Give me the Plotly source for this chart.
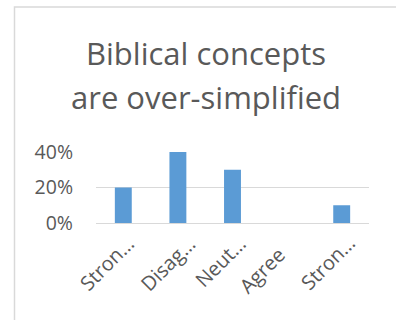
import plotly.graph_objects as go

# Survey response categories and share of respondents
categories = ["Strongly disagree", "Disagree", "Neutral", "Agree", "Strongly agree"]
tick_labels = ["Stron…", "Disag…", "Neut…", "Agree", "Stron…"]
shares = [0.20, 0.40, 0.30, 0.0, 0.10]

y_ticks = [0, 0.2, 0.4]
y_tick_labels = ["0%", "20%", "40%"]

title_lines = ["Biblical concepts", "are over-simplified"]

text_color = "#595959"
grid_color = "#d9d9d9"
font_family = "'Open Sans', sans-serif"

fig = go.Figure(
    go.Bar(
        x=categories,
        y=shares,
        marker=dict(color="#5b9bd5", line=dict(width=0)),
    )
)

W, H = 396, 320
L, R, T, B = 96, 27, 152, 97
pw = W - L - R
ph = H - T - B


def px_to_paper_x(px):
    return (px - L) / pw


def px_to_paper_y(py):
    return (H - B - py) / ph


fig.update_layout(
    width=W,
    height=H,
    margin=dict(l=L, r=R, t=T, b=B),
    paper_bgcolor="white",
    plot_bgcolor="white",
    bargap=0.69,
    showlegend=False,
    font=dict(family=font_family, color=text_color),
)

# Two-line chart title, set as separate lines for looser line spacing
for line, center_y in zip(title_lines, [53, 97]):
    fig.add_annotation(
        text=line,
        xref="paper",
        yref="paper",
        x=px_to_paper_x(205.5),
        y=px_to_paper_y(center_y),
        xanchor="center",
        yanchor="middle",
        showarrow=False,
        font=dict(size=31, color=text_color, family=font_family),
    )

# Rotated category labels (short labels sit slightly differently from clipped ones)
label_dx = [19, 26, 22, 6, 22]
label_dy = [5, 4, 5, 16, 4]
for cat, lab, dx, dy in zip(categories, tick_labels, label_dx, label_dy):
    fig.add_annotation(
        text=lab,
        xref="x",
        yref="y",
        x=cat,
        y=0,
        xanchor="right",
        yanchor="top",
        xshift=dx,
        yshift=-dy,
        textangle=-45,
        showarrow=False,
        font=dict(size=20, color=text_color, family=font_family),
    )

fig.update_xaxes(
    range=[-0.5, len(categories) - 0.5],
    autorange=False,
    showticklabels=False,
    showgrid=False,
    showline=True,
    linecolor=grid_color,
    linewidth=1,
    ticks="",
)

fig.update_yaxes(
    range=[0, 0.4],
    autorange=False,
    tickmode="array",
    tickvals=y_ticks,
    ticktext=y_tick_labels,
    tickfont=dict(size=19.5, color=text_color),
    showgrid=True,
    gridcolor=grid_color,
    gridwidth=1,
    zeroline=False,
    showline=False,
    ticks="",
    ticklabelstandoff=22,
)

# Light frame around the chart area
fig.add_shape(
    type="rect",
    xref="paper",
    yref="paper",
    x0=px_to_paper_x(14.5),
    x1=px_to_paper_x(W + 20),
    y0=px_to_paper_y(H + 20),
    y1=px_to_paper_y(7),
    line=dict(color=grid_color, width=1.5),
    fillcolor="rgba(0,0,0,0)",
    layer="below",
)

fig.write_html("out.html")
